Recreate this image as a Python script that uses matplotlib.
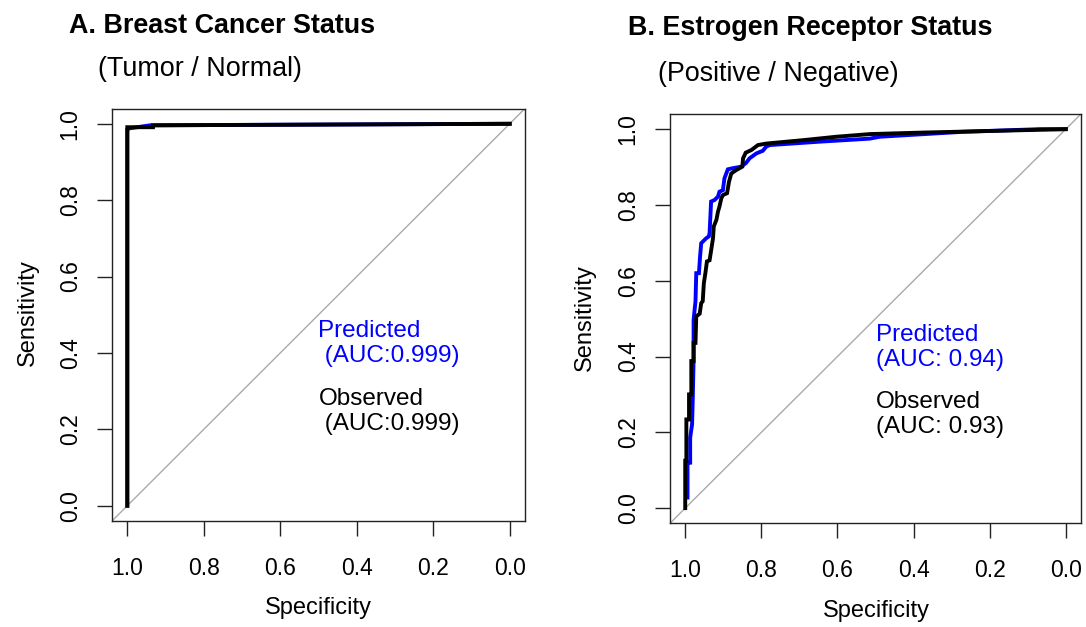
import matplotlib
matplotlib.use("Agg")
import matplotlib.pyplot as plt

plt.rcParams['font.family'] = ['Liberation Sans', 'DejaVu Sans']

# ---------------- data ----------------
# Panel A: Breast cancer status (Tumor / Normal)
a_pred_spec = [1.0, 1.0, 0.995, 0.94, 0.0]
a_pred_sens = [0.0, 0.985, 0.988, 0.996, 1.0]
a_obs_spec = [1.0, 1.0, 0.933, 0.933, 0.0]
a_obs_sens = [0.0, 0.991, 0.991, 0.996, 1.0]

# Panel B: Estrogen receptor status (Positive / Negative)
b_pred_spec = [0.994, 0.994, 0.987, 0.987, 0.982, 0.980, 0.978, 0.978, 0.973, 0.971,
               0.964, 0.961, 0.958, 0.945, 0.938, 0.936, 0.932, 0.923, 0.914, 0.910,
               0.901, 0.897, 0.888, 0.875, 0.853, 0.840, 0.831, 0.813, 0.796, 0.787,
               0.778, 0.647, 0.515, 0.489, 0.27, 0.068, 0.0]
b_pred_sens = [0.028, 0.120, 0.120, 0.186, 0.221, 0.296, 0.392, 0.497, 0.546, 0.620,
               0.620, 0.664, 0.699, 0.712, 0.717, 0.726, 0.809, 0.813, 0.822, 0.835,
               0.839, 0.870, 0.894, 0.897, 0.901, 0.911, 0.923, 0.936, 0.943, 0.954,
               0.958, 0.967, 0.975, 0.980, 0.993, 1.0, 1.0]
b_obs_spec = [1.0, 1.0, 0.997, 0.997, 0.990, 0.990, 0.984, 0.984, 0.978, 0.978,
              0.973, 0.971, 0.962, 0.958, 0.954, 0.951, 0.947, 0.943, 0.936, 0.933,
              0.927, 0.925, 0.918, 0.914, 0.910, 0.905, 0.901, 0.890, 0.885, 0.879,
              0.866, 0.850, 0.848, 0.841, 0.826, 0.809, 0.787, 0.690, 0.603, 0.515,
              0.375, 0.0]
b_obs_sens = [0.0, 0.125, 0.125, 0.234, 0.234, 0.300, 0.300, 0.388, 0.388, 0.436,
              0.436, 0.506, 0.513, 0.541, 0.546, 0.594, 0.620, 0.651, 0.654, 0.673,
              0.712, 0.743, 0.761, 0.782, 0.796, 0.818, 0.826, 0.831, 0.861, 0.883,
              0.892, 0.901, 0.923, 0.938, 0.945, 0.958, 0.962, 0.971, 0.980, 0.987,
              0.991, 1.0]

ticks = [0.0, 0.2, 0.4, 0.6, 0.8, 1.0]
tick_labels = ["0.0", "0.2", "0.4", "0.6", "0.8", "1.0"]

titles = ["A. Breast Cancer Status", "B. Estrogen Receptor Status"]
subtitles = ["(Tumor / Normal)", "(Positive / Negative)"]
pred_labels = ["Predicted\n (AUC:0.999)", "Predicted\n(AUC: 0.94)"]
obs_labels = ["Observed\n (AUC:0.999)", "Observed\n(AUC: 0.93)"]

# ---------------- figure ----------------
W, H = 1086, 627
fig = plt.figure(figsize=(W / 100, H / 100), dpi=100)


def rect(l, t, r, b):
    return [l / W, 1 - b / H, (r - l) / W, (b - t) / H]


axA = fig.add_axes(rect(112, 108.5, 525, 521))
axB = fig.add_axes(rect(670, 114, 1081, 523.3))

FS = 16.5
FS_LAB = 17.0
FS_TXT = 17.5
panels = [
    (axA, a_pred_spec, a_pred_sens, a_obs_spec, a_obs_sens),
    (axB, b_pred_spec, b_pred_sens, b_obs_spec, b_obs_sens),
]

for i, (ax, ps, pv, os_, ov) in enumerate(panels):
    ax.set_xlim(1.04, -0.04)
    ax.set_ylim(-0.04, 1.04)
    ax.axline((1.0, 0.0), (0.0, 1.0), color='#aaaaaa', lw=1.0, zorder=1)
    ax.plot(ps, pv, color='#0000ff', lw=2.8, zorder=2, solid_joinstyle='miter')
    ax.plot(os_, ov, color='black', lw=2.8, zorder=3, solid_joinstyle='miter')
    ax.set_xticks(ticks)
    ax.set_xticklabels(tick_labels, fontsize=FS)
    ax.set_yticks(ticks)
    ax.set_yticklabels(tick_labels, fontsize=FS, rotation=90, va='center')
    ax.tick_params(axis='both', direction='out', length=10.8, width=1.0, color='#222222')
    ax.tick_params(axis='x', pad=15)
    ax.tick_params(axis='y', pad=11)
    for sp in ax.spines.values():
        sp.set_linewidth(1.0)
        sp.set_color('#222222')
    ax.text(0.5, 0.375, pred_labels[i], color='#0000ff', fontsize=FS_TXT,
            ha='left', va='baseline', linespacing=1.2)
    ax.text(0.5, 0.198, obs_labels[i], color='black', fontsize=FS_TXT,
            ha='left', va='baseline', linespacing=1.2)

# titles and subtitles (pixel positions)
fig.text(69 / W, 1 - 33 / H, titles[0], fontsize=19.4, fontweight='bold', ha='left', va='baseline')
fig.text(98 / W, 1 - 76 / H, subtitles[0], fontsize=19.4, ha='left', va='baseline')
fig.text(628 / W, 1 - 35 / H, titles[1], fontsize=19.4, fontweight='bold', ha='left', va='baseline')
fig.text(658 / W, 1 - 81 / H, subtitles[1], fontsize=19.4, ha='left', va='baseline')

# axis labels
fig.text(28 / W, 1 - 313 / H, "Sensitivity", fontsize=FS_LAB, rotation=90, ha='center', va='center')
fig.text(585 / W, 1 - 318 / H, "Sensitivity", fontsize=FS_LAB, rotation=90, ha='center', va='center')
fig.text(318 / W, 1 - 608 / H, "Specificity", fontsize=FS_LAB, ha='center', va='center')
fig.text(876 / W, 1 - 611 / H, "Specificity", fontsize=FS_LAB, ha='center', va='center')

fig.savefig("out.png", dpi=100)
